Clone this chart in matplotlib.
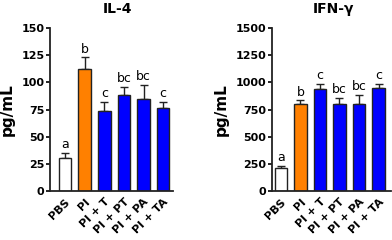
import matplotlib.pyplot as plt
import numpy as np

groups = ['PBS', 'PI', 'PI + T', 'PI + PT', 'PI + PA', 'PI + TA']
colors = ['white', '#ff8000', '#0000ff', '#0000ff', '#0000ff', '#0000ff']

il4_mean = [30, 112, 74, 88, 85, 76]
il4_err = [5, 11, 8, 8, 13, 6]
il4_letters = ['a', 'b', 'c', 'bc', 'bc', 'c']

ifn_mean = [215, 805, 940, 800, 805, 945]
ifn_err = [15, 30, 45, 60, 80, 40]
ifn_letters = ['a', 'b', 'c', 'bc', 'bc', 'c']

fig = plt.figure(figsize=(3.92, 2.4), dpi=100)
ax1 = fig.add_axes([50/392, 49/240, 123/392, 163/240])
ax2 = fig.add_axes([272/392, 49/240, 119/392, 163/240])


def panel(ax, mean, err, letters, ymax, step, xlim, pad):
    x = np.arange(len(groups))
    ax.bar(x, mean, width=0.64, color=colors, edgecolor='#222222', linewidth=1.0, zorder=2)
    ax.errorbar(x, mean, yerr=[np.zeros(len(err)), err], fmt='none', ecolor='#222222',
                elinewidth=1.0, capsize=3, capthick=1.0, zorder=1)
    for xi, m, e, lt in zip(x, mean, err, letters):
        ax.text(xi, m + e + pad, lt, ha='center', va='bottom', fontsize=9)
    ax.set_ylim(0, ymax)
    ax.set_yticks(np.arange(0, ymax + 1, step))
    ax.set_xlim(*xlim)
    ax.set_xticks(x)
    ax.set_xticklabels(groups, rotation=45, ha='right', rotation_mode='anchor',
                       fontsize=8, fontweight='bold')
    for lab in ax.get_yticklabels():
        lab.set_fontweight('bold')
        lab.set_fontsize(8)
    ax.tick_params(axis='x', length=0, pad=4)
    ax.tick_params(axis='y', length=3, width=1.2, pad=1)
    for s in ['top', 'right']:
        ax.spines[s].set_visible(False)
    for s in ['left', 'bottom']:
        ax.spines[s].set_linewidth(1.3)
        ax.spines[s].set_color('#222222')
    ax.set_ylabel('pg/mL', fontsize=11, fontweight='bold', labelpad=5)


panel(ax1, il4_mean, il4_err, il4_letters, 150, 25, (-0.77, 5.5), 1.5)
panel(ax2, ifn_mean, ifn_err, ifn_letters, 1500, 250, (-0.46, 5.64), 15)

fig.text(117/392, 1 - 9/240, 'IL-4', ha='center', va='center', fontsize=10, fontweight='bold')
fig.text(333/392, 1 - 9/240, 'IFN-γ', ha='center', va='center', fontsize=10, fontweight='bold')

fig.savefig('out.png', dpi=100)
